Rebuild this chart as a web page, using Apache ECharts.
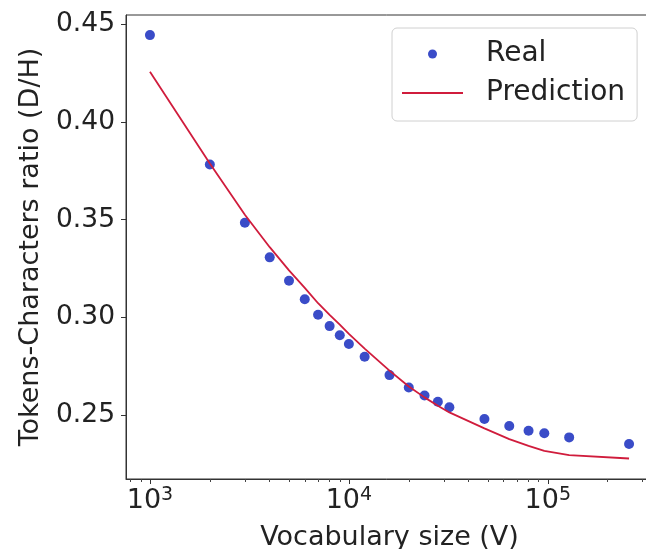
<!DOCTYPE html>
<html>
<head>
<meta charset="utf-8">
<script src="https://cdn.jsdelivr.net/npm/echarts@6/dist/echarts.min.js"></script>
<style>
    html, body { margin: 0; padding: 0; background: #fff; }
    #main { width: 646px; height: 549px; }
</style>
</head>
<body>
<div id="main"></div>
<script>
// vocabulary sizes (x, log scale)
var vocab = [1000, 2000, 3000, 4000, 5000, 6000, 7000, 8000, 9000, 10000, 12000,
    16000, 20000, 24000, 28000, 32000, 48000, 64000, 80000, 96000, 128000, 256000];
// measured tokens / characters ratio
var real = [0.4445, 0.3782, 0.3484, 0.3307, 0.3187, 0.3092, 0.3013, 0.2955, 0.2908, 0.2863, 0.2798,
    0.2704, 0.2641, 0.2600, 0.2568, 0.2539, 0.2479, 0.2443, 0.2419, 0.2406, 0.2385, 0.2351];
// fitted curve
var pred = [0.4257, 0.3787, 0.3525, 0.3359, 0.3240, 0.3151, 0.3072, 0.3012, 0.2962, 0.2915, 0.2840,
    0.2727, 0.2646, 0.2590, 0.2547, 0.2513, 0.2431, 0.2376, 0.2342, 0.2316, 0.2294, 0.2277];

var xMajor = [1000, 10000, 100000];
var xMinor = [800, 900, 2000, 3000, 4000, 5000, 6000, 7000, 8000, 9000,
    20000, 30000, 40000, 50000, 60000, 70000, 80000, 90000, 200000, 300000];
var yTicks = [0.25, 0.30, 0.35, 0.40, 0.45];

var font = 'DejaVu Sans';

var realPts = [], predPts = [];
for (var i = 0; i < vocab.length; i++) {
    realPts.push([vocab[i], real[i]]);
    predPts.push([vocab[i], pred[i]]);
}

var chart = echarts.init(document.getElementById('main'));
var option = {
    animation: false,
    backgroundColor: '#fff',
    textStyle: {fontFamily: font},
    grid: {
        left: 126, top: 15, width: 527, height: 464,
        outerBoundsMode: 'none',
        containLabel: false,
        show: true, borderColor: '#333', borderWidth: 1
    },
    legend: {
        orient: 'vertical',
        left: 392, top: 28,
        padding: [11, 12, 13, 10],
        itemWidth: 61, itemHeight: 9, itemGap: 9,
        symbolKeepAspect: true,
        borderColor: '#d0d0d0', borderWidth: 1, borderRadius: 5,
        backgroundColor: '#fff',
        textStyle: {fontSize: 28, color: '#222', fontFamily: font, lineHeight: 30, padding: [0, 0, 0, 18]},
        data: [
            {name: 'Real', icon: 'circle'},
            {name: 'Prediction', icon: 'path://M0,0H61V2H0Z'}
        ]
    },
    xAxis: [{
        type: 'log',
        min: 757.8, max: 337800,
        axisLine: {show: true, lineStyle: {color: '#333', width: 1}},
        axisTick: {show: true, length: 5, lineStyle: {color: '#333'}, customValues: xMajor},
        axisLabel: {
            customValues: xMajor, margin: 7,
            formatter: function (v) {
                var e = Math.round(Math.log(v) / Math.LN10);
                return '{b|10}{s|' + e + '}';
            },
            rich: {
                b: {fontSize: 27, color: '#222', fontFamily: font, lineHeight: 30},
                s: {fontSize: 19, color: '#222', fontFamily: font, verticalAlign: 'top', lineHeight: 19}
            }
        },
        splitLine: {show: false},
        name: 'Vocabulary size (V)',
        nameLocation: 'middle', nameGap: 45,
        nameTextStyle: {fontSize: 27, color: '#222', fontFamily: font}
    }, {
        // minor ticks only
        type: 'log',
        min: 757.8, max: 337800,
        position: 'bottom',
        axisLine: {show: false},
        axisTick: {show: true, length: 3, lineStyle: {color: '#444', width: 1}, customValues: xMinor},
        axisLabel: {show: false},
        splitLine: {show: false}
    }],
    yAxis: {
        type: 'value',
        min: 0.2172, max: 0.4548,
        axisLine: {show: true, lineStyle: {color: '#333', width: 1}},
        axisTick: {show: true, length: 5, lineStyle: {color: '#333'}, customValues: yTicks},
        axisLabel: {
            customValues: yTicks, margin: 11,
            fontSize: 26.5, color: '#222', fontFamily: font,
            formatter: function (v) { return v.toFixed(2); }
        },
        splitLine: {show: false},
        name: 'Tokens-Characters ratio (D/H)',
        nameLocation: 'middle', nameGap: 82,
        nameTextStyle: {fontSize: 27, color: '#222', fontFamily: font}
    },
    series: [{
        name: 'Real',
        type: 'scatter',
        data: realPts,
        symbol: 'circle',
        symbolSize: 10,
        itemStyle: {color: '#3a4cc8', opacity: 1},
        z: 2
    }, {
        name: 'Prediction',
        type: 'line',
        data: predPts,
        symbol: 'none',
        showSymbol: false,
        lineStyle: {color: '#d01c3c', width: 1.8},
        itemStyle: {color: '#d01c3c'},
        z: 3
    }]
};
chart.setOption(option);
</script>
</body>
</html>
